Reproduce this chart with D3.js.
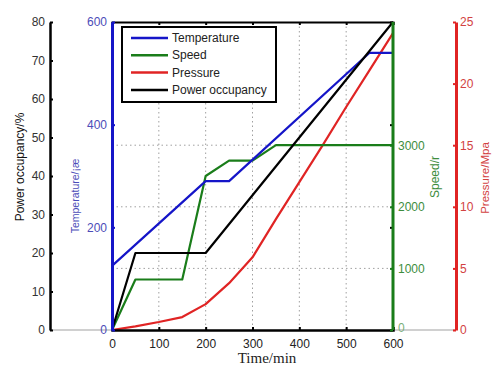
<!DOCTYPE html>
<html>
<head>
<meta charset="utf-8">
<script src="https://cdn.jsdelivr.net/npm/d3@7"></script>
<style>
  body { margin: 0; background: #fff; }
  text { font-family: "Liberation Sans", Arial, sans-serif; }
</style>
</head>
<body>
<svg id="chart" width="500" height="375"></svg>
<script>
const seriesNames = ["Temperature", "Speed", "Pressure", "Power occupancy"];
const xTicks = [0, 100, 200, 300, 400, 500, 600];
const powerTicks = [0, 10, 20, 30, 40, 50, 60, 70, 80];
const tempTicks = [0, 200, 400, 600];
const speedTicks = [0, 1000, 2000, 3000];
const presTicks = [0, 5, 10, 15, 20, 25];

const tempTime = [0, 200, 250, 550, 600];
const tempVal = [125, 290, 290, 540, 540];
const speedTime = [0, 50, 150, 200, 250, 300, 350, 600];
const speedVal = [0, 820, 820, 2500, 2750, 2750, 3000, 3000];
const presTime = [0, 50, 100, 150, 200, 250, 300, 350, 400, 450, 500, 550, 600];
const presVal = [0, 0.3, 0.65, 1.05, 2.1, 3.8, 5.9, 9.0, 12.0, 15.0, 18.1, 21.1, 24.1];
const powTime = [0, 50, 200, 600];
const powVal = [0, 20, 20, 80];

const svg = d3.select("#chart");
const pLeft = 112, pRight = 393, pTop = 22, pBottom = 330;

const x = d3.scaleLinear().domain([0, 600]).range([pLeft, pRight]);
const yPow = d3.scaleLinear().domain([0, 80]).range([pBottom, pTop]);
const yTemp = d3.scaleLinear().domain([0, 600]).range([pBottom, pTop]);
const ySpeed = d3.scaleLinear().domain([0, 5000]).range([pBottom, pTop]);
const yPres = d3.scaleLinear().domain([0, 25]).range([pBottom, pTop]);

const cBlue = "#1515c8", cGreen = "#1a7d1a", cRed = "#e02424";

// grid
const grid = svg.append("g").attr("stroke", "#a0a0a0").attr("stroke-dasharray", "1.5,3");
grid.selectAll("line.v").data(xTicks.slice(1, -1)).enter().append("line")
  .attr("x1", d => x(d)).attr("x2", d => x(d)).attr("y1", pTop).attr("y2", pBottom);
grid.selectAll("line.h").data(speedTicks.slice(1)).enter().append("line")
  .attr("x1", pLeft).attr("x2", pRight).attr("y1", d => ySpeed(d)).attr("y2", d => ySpeed(d));

// baselines of offset axes
svg.append("line").attr("x1", 50).attr("x2", pLeft).attr("y1", pBottom).attr("y2", pBottom)
  .attr("stroke", "#c0c0c0").attr("stroke-width", 1.5);
svg.append("line").attr("x1", pRight).attr("x2", 456).attr("y1", pBottom).attr("y2", pBottom)
  .attr("stroke", "#c0c0c0").attr("stroke-width", 1.5);

// lines
function drawLine(times, vals, yScale, color) {
  const pts = times.map((t, i) => [t, vals[i]]);
  svg.append("path").datum(pts)
    .attr("fill", "none").attr("stroke", color).attr("stroke-width", 2.2)
    .attr("stroke-linejoin", "round")
    .attr("d", d3.line().x(d => x(d[0])).y(d => yScale(d[1])));
}
drawLine(presTime, presVal, yPres, cRed);
drawLine(speedTime, speedVal, ySpeed, cGreen);
drawLine(tempTime, tempVal, yTemp, cBlue);
drawLine(powTime, powVal, yPow, "#000");

// box top / bottom
const gx = svg.append("g").attr("transform", `translate(0,${pBottom})`)
  .call(d3.axisBottom(x).tickValues(xTicks).tickSize(-3).tickPadding(9));
gx.select(".domain").attr("stroke", "#000").attr("stroke-width", 2.5);
gx.selectAll("text").attr("font-size", 12).attr("fill", "#222");
gx.selectAll(".tick line").attr("stroke-width", 2);

const gt = svg.append("g").attr("transform", `translate(0,${pTop})`)
  .call(d3.axisTop(x).tickValues(xTicks).tickSize(-3).tickFormat(""));
gt.select(".domain").attr("stroke", "#000").attr("stroke-width", 2);
gt.selectAll(".tick line").attr("stroke-width", 2);

function styleAxis(g, color, textColor, w) {
  g.select(".domain").attr("stroke", color).attr("stroke-width", w);
  g.selectAll(".tick line").attr("stroke", color).attr("stroke-width", 2);
  g.selectAll("text").attr("font-size", 12).attr("fill", textColor);
}

// power axis
const gp = svg.append("g").attr("transform", "translate(50,0)")
  .call(d3.axisLeft(yPow).tickValues(powerTicks).tickSize(-3).tickPadding(5).tickSizeOuter(0));
styleAxis(gp, "#000", "#333", 2.5);

// temperature axis
const gtp = svg.append("g").attr("transform", `translate(${pLeft},0)`)
  .call(d3.axisLeft(yTemp).tickValues(tempTicks).tickSize(-3).tickPadding(5).tickSizeOuter(0));
styleAxis(gtp, cBlue, "#4c4cb8", 3);

// mirrored temperature ticks on the right side
svg.append("g").attr("transform", `translate(${pRight},0)`)
  .call(d3.axisLeft(yTemp).tickValues(tempTicks).tickSize(3).tickFormat("").tickSizeOuter(0))
  .call(g => g.select(".domain").remove())
  .call(g => g.selectAll(".tick line").attr("stroke", "#000").attr("stroke-width", 2));

// speed axis
const gs = svg.append("g").attr("transform", `translate(${pRight},0)`)
  .call(d3.axisRight(ySpeed).tickValues(speedTicks).tickFormat(d3.format("d"))
    .tickSize(-3).tickPadding(5).tickSizeOuter(0));
styleAxis(gs, cGreen, "#3d8d3d", 3);
gs.select(".domain").attr("d", `M0,${pTop}V${pBottom}`);
gs.selectAll(".tick text").filter(d => d === 0).attr("y", -2).attr("fill", "#7ab07a");

// pressure axis
const gpr = svg.append("g").attr("transform", "translate(456,0)")
  .call(d3.axisRight(yPres).tickValues(presTicks).tickSize(-3).tickPadding(4).tickSizeOuter(0));
styleAxis(gpr, cRed, "#d24242", 3);

// axis titles
function vTitle(txt, cx, cy, color, size) {
  svg.append("text").attr("transform", `translate(${cx},${cy}) rotate(-90)`)
    .attr("text-anchor", "middle").attr("dominant-baseline", "central")
    .attr("font-size", size).attr("fill", color).text(txt);
}
vTitle("Power occupancy/%", 20, 167, "#111", 12);
vTitle("Temperature/¡æ", 75, 196, "#4c4cb8", 10.5);
vTitle("Speed/r", 435, 177, "#3d8d3d", 12);
vTitle("Pressure/Mpa", 485, 178, "#d24242", 11.5);

svg.append("text").attr("x", 267).attr("y", 363).attr("text-anchor", "middle")
  .style("font-family", "'Liberation Serif', 'Times New Roman', serif")
  .attr("font-size", 15).attr("fill", "#222").text("Time/min");

// legend
const legColors = [cBlue, cGreen, cRed, "#000"];
const leg = svg.append("g");
leg.append("rect").attr("x", 122).attr("y", 27).attr("width", 154).attr("height", 75)
  .attr("fill", "#fff").attr("stroke", "#000").attr("stroke-width", 2);
seriesNames.forEach((name, i) => {
  const yy = 38 + i * 17.3;
  leg.append("line").attr("x1", 131).attr("x2", 168).attr("y1", yy).attr("y2", yy)
    .attr("stroke", legColors[i]).attr("stroke-width", 2.5);
  leg.append("text").attr("x", 172).attr("y", yy).attr("dominant-baseline", "central")
    .attr("font-size", 12).attr("fill", "#222").text(name);
});
</script>
</body>
</html>
